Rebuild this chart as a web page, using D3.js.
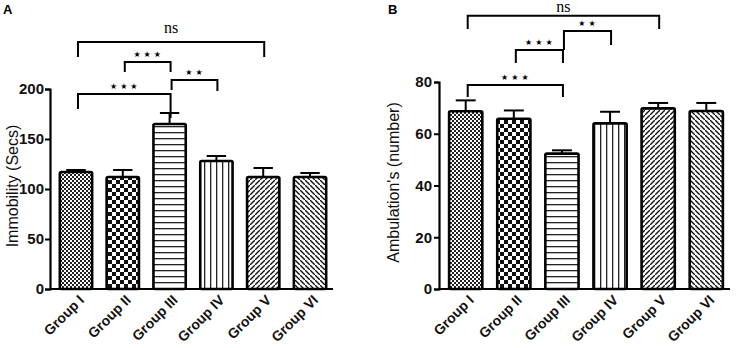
<!DOCTYPE html>
<html>
<head>
<meta charset="utf-8">
<script src="https://cdn.jsdelivr.net/npm/d3@7"></script>
<style>
  body { margin: 0; background: #fff; }
  svg { display: block; font-family: "Liberation Sans", Arial, sans-serif; }
</style>
</head>
<body>
<div id="chart"></div>
<script>
const groups = ['Group I', 'Group II', 'Group III', 'Group IV', 'Group V', 'Group VI'];
const patterns = ['fineCheck', 'coarseCheck', 'hLines', 'vLines', 'diagF', 'diagB'];

// panel A: immobility (secs)
const immobility = [117, 112, 165, 128, 112, 112];
const immobilityErr = [2, 7, 11, 5, 9, 4];
const immobilityTicks = [0, 50, 100, 150, 200];
// [from group, to group, y of bracket, y of left leg end, y of right leg end, label]
const immobilitySig = [
  [0, 4, 247, 232, 232, 'ns'],
  [1, 2, 227, 217, 217, '***'],
  [2, 3, 209, 199, 198, '**'],
  [0, 2, 195, 180, 171, '***']
];

// panel B: ambulation (number)
const ambulation = [68.7, 65.8, 52.3, 64.0, 69.8, 68.8];
const ambulationErr = [4.2, 3.2, 1.3, 4.5, 2.1, 3.1];
const ambulationTicks = [0, 20, 40, 60, 80];
const ambulationSig = [
  [0, 4, 105.6, 100.5, 100.5, 'ns'],
  [2, 3, 99.7, 92.4, 94.3, '**'],
  [1, 2, 92.4, 87.3, 87.3, '***'],
  [0, 2, 78.8, 74.2, 74.2, '***']
];

const width = 737, height = 348;
const svg = d3.select('#chart').append('svg')
  .attr('width', width)
  .attr('height', height);

// fill patterns
const defs = svg.append('defs');
function addPattern(id, size, draw) {
  const p = defs.append('pattern')
    .attr('id', id)
    .attr('patternUnits', 'userSpaceOnUse')
    .attr('width', size)
    .attr('height', size);
  p.append('rect').attr('width', size).attr('height', size).attr('fill', '#fff');
  draw(p);
}
addPattern('fineCheck', 4, (p) => {
  p.append('rect').attr('width', 2).attr('height', 2).attr('fill', '#222');
  p.append('rect').attr('x', 2).attr('y', 2).attr('width', 2).attr('height', 2).attr('fill', '#222');
});
addPattern('coarseCheck', 8, (p) => {
  p.append('rect').attr('width', 4).attr('height', 4).attr('fill', '#111');
  p.append('rect').attr('x', 4).attr('y', 4).attr('width', 4).attr('height', 4).attr('fill', '#111');
});
addPattern('hLines', 6, (p) => {
  p.append('rect').attr('y', 0).attr('width', 6).attr('height', 1.3).attr('fill', '#222');
});
addPattern('vLines', 6, (p) => {
  p.append('rect').attr('x', 0).attr('width', 1.3).attr('height', 6).attr('fill', '#222');
});
addPattern('diagF', 5, (p) => {
  p.append('path').attr('d', 'M-1,6 L6,-1 M-2,1 L1,-2 M4,7 L7,4')
    .attr('stroke', '#111').attr('stroke-width', 1.4);
});
addPattern('diagB', 5, (p) => {
  p.append('path').attr('d', 'M-1,-1 L6,6 M-2,4 L1,7 M4,-2 L7,1')
    .attr('stroke', '#111').attr('stroke-width', 1.4);
});

function panel(opts) {
  const x = d3.scaleBand()
    .domain(groups)
    .range(opts.xRange)
    .paddingInner(0.31)
    .paddingOuter(0.21);
  const y = d3.scaleLinear()
    .domain([0, opts.ticks[opts.ticks.length - 1]])
    .range(opts.yRange);
  const g = svg.append('g');
  const cx = (i) => x(groups[i]) + x.bandwidth() / 2;

  // bars
  g.selectAll('.bar')
    .data(opts.values)
    .enter().append('rect')
      .attr('class', 'bar')
      .attr('x', (d, i) => x(groups[i]))
      .attr('y', (d) => y(d))
      .attr('width', x.bandwidth())
      .attr('height', (d) => y(0) - y(d))
      .attr('rx', 1.5)
      .attr('fill', (d, i) => `url(#${patterns[i]})`)
      .attr('stroke', '#000')
      .attr('stroke-width', 2.6);

  // error bars (upper only)
  const capW = x.bandwidth() * 0.3;
  opts.values.forEach((v, i) => {
    const top = y(v + opts.errors[i]);
    g.append('line')
      .attr('x1', cx(i)).attr('x2', cx(i))
      .attr('y1', y(v)).attr('y2', top)
      .attr('stroke', '#000').attr('stroke-width', 2);
    g.append('line')
      .attr('x1', cx(i) - capW).attr('x2', cx(i) + capW)
      .attr('y1', top).attr('y2', top)
      .attr('stroke', '#000').attr('stroke-width', 2);
  });

  // y axis
  const yAxis = g.append('g')
    .attr('transform', `translate(${opts.xRange[0]},0)`)
    .call(d3.axisLeft(y).tickValues(opts.ticks).tickSize(5).tickPadding(opts.tickPad));
  yAxis.select('.domain').attr('stroke-width', 2.2);
  yAxis.selectAll('.tick line').attr('stroke-width', 2);
  yAxis.selectAll('.tick text')
    .attr('font-size', 15)
    .attr('font-weight', 'bold')
    .attr('fill', '#111')
    .attr('font-family', '"Liberation Sans", Arial, sans-serif');

  // x axis
  const xAxis = g.append('g')
    .attr('transform', `translate(0,${y(0)})`)
    .call(d3.axisBottom(x).tickSize(0).tickPadding(0));
  xAxis.select('.domain')
    .attr('d', `M${opts.xRange[0]},0H${opts.xRange[1] - 3}`)
    .attr('stroke-width', 2.2);
  xAxis.selectAll('.tick text')
    .attr('font-size', 14)
    .attr('font-weight', 'bold')
    .attr('fill', '#111')
    .attr('font-family', '"Liberation Sans", Arial, sans-serif')
    .attr('text-anchor', 'end')
    .attr('dy', 0)
    .attr('transform', 'translate(9,12) rotate(-45)');

  // y label
  g.append('text')
    .attr('transform', `translate(${opts.labelX},${(opts.yRange[0] + opts.yRange[1]) / 2 - 3}) rotate(-90)`)
    .attr('text-anchor', 'middle')
    .attr('font-size', 16)
    .attr('fill', '#111')
    .text(opts.label);

  // panel letter
  svg.append('text')
    .attr('x', opts.letterX).attr('y', 14)
    .attr('font-size', 13)
    .attr('font-weight', 'bold')
    .text(opts.letter);

  // significance brackets
  opts.sig.forEach(([a, b, yy, yl, yr, lab]) => {
    const x1 = cx(a) + 2;
    const x2 = cx(b) + 1;
    g.append('path')
      .attr('d', `M${x1},${y(yl)}V${y(yy)}H${x2}V${y(yr)}`)
      .attr('fill', 'none')
      .attr('stroke', '#000')
      .attr('stroke-width', 2);
    if (lab === 'ns') {
      g.append('text')
        .attr('x', (x1 + x2) / 2).attr('y', y(yy) - opts.nsGap)
        .attr('text-anchor', 'middle')
        .attr('font-family', '"Liberation Serif", "Times New Roman", serif')
        .attr('font-size', 16)
        .text('ns');
    } else {
      g.append('text')
        .attr('x', (x1 + x2) / 2 + 1).attr('y', y(yy) - 5)
        .attr('text-anchor', 'middle')
        .attr('font-family', '"DejaVu Sans", sans-serif')
        .attr('font-size', 8)
        .attr('letter-spacing', 3)
        .text(lab.replace(/\*/g, '\u2605'));
    }
  });
}

panel({
  xRange: [50, 336],
  yRange: [289, 89],
  values: immobility,
  errors: immobilityErr,
  ticks: immobilityTicks,
  sig: immobilitySig,
  label: 'Immobility (Secs)',
  labelX: 18,
  letter: 'A',
  letterX: 3,
  nsGap: 9,
  tickPad: 1
});

panel({
  xRange: [439, 733],
  yRange: [289, 82],
  values: ambulation,
  errors: ambulationErr,
  ticks: ambulationTicks,
  sig: ambulationSig,
  label: "Ambulation's (number)",
  labelX: 399,
  letter: 'B',
  letterX: 388,
  nsGap: 4,
  tickPad: 2
});
</script>
</body>
</html>
